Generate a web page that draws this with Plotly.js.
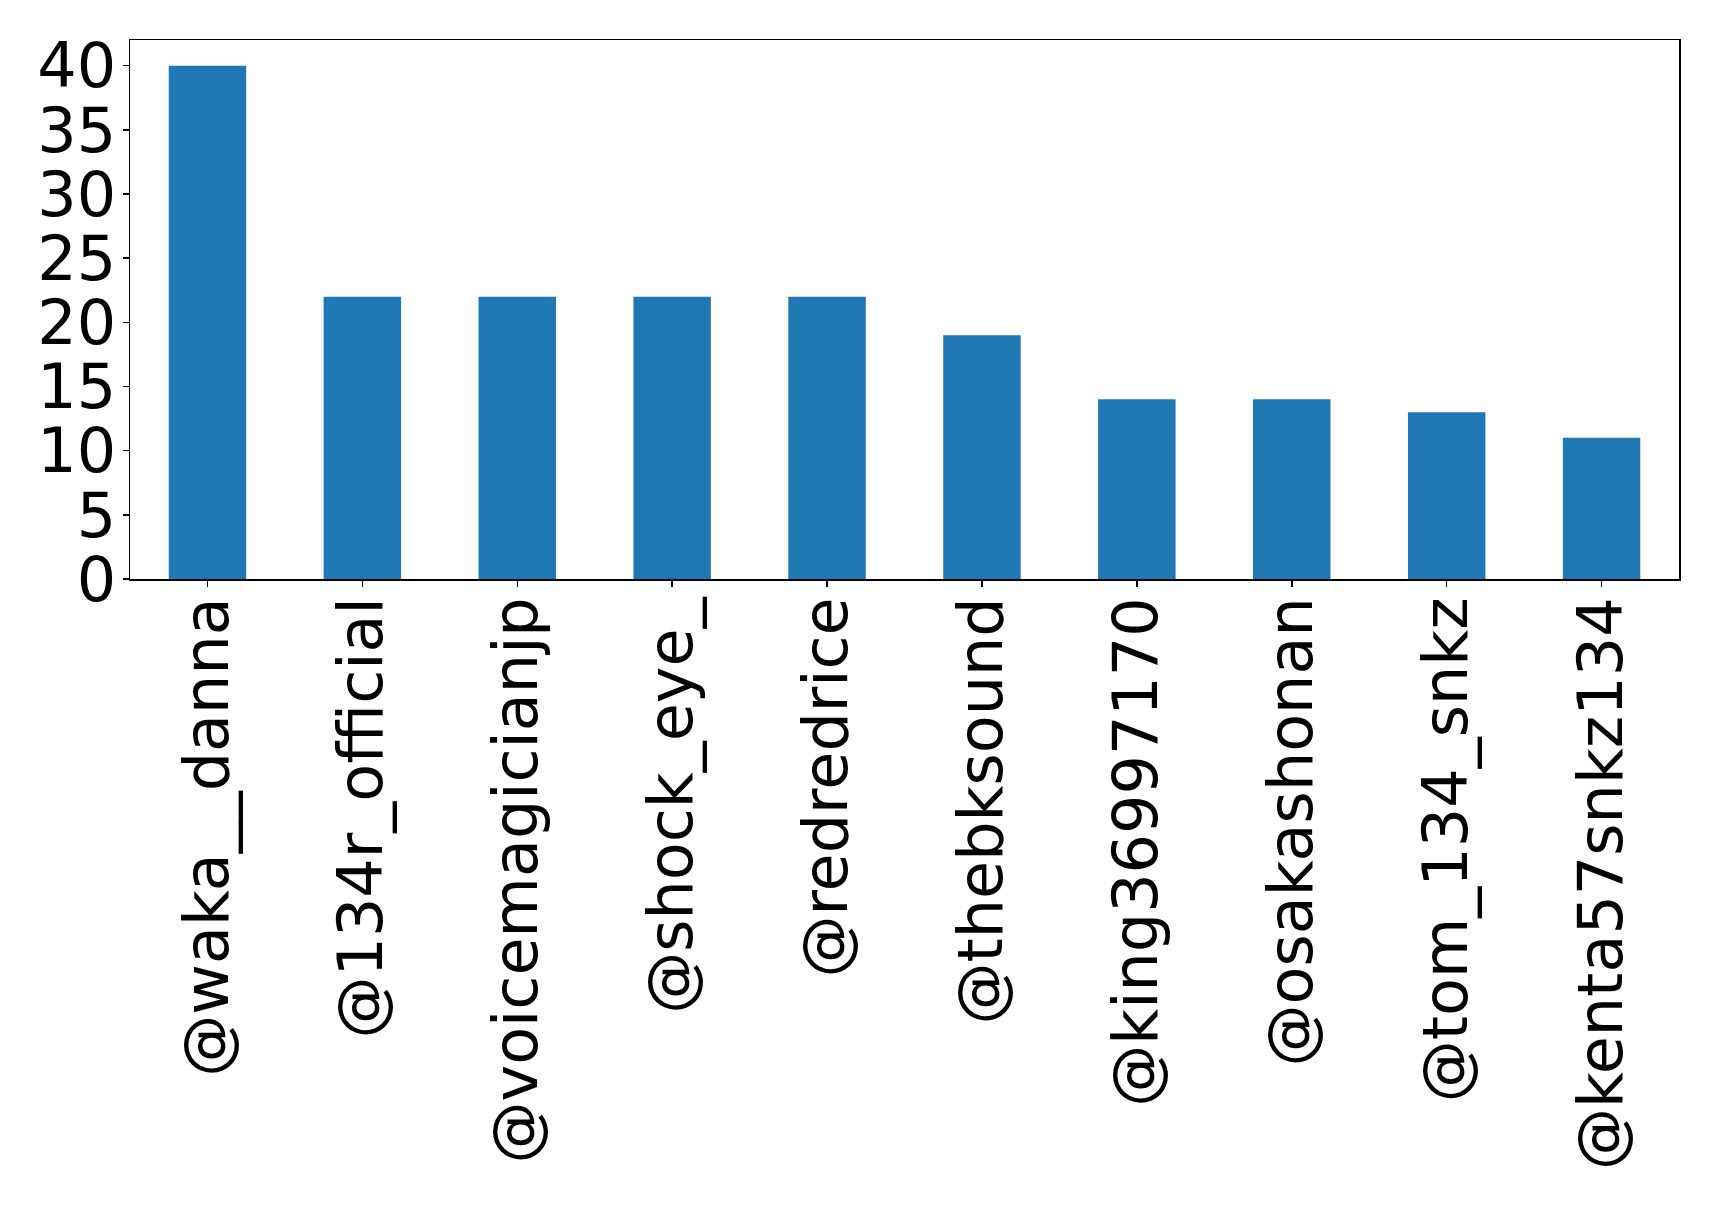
<!DOCTYPE html>
<html>
<head>
<meta charset="utf-8">
<script src="https://cdn.plot.ly/plotly-3.0.1.min.js"></script>
<style>
  html, body { margin: 0; padding: 0; background: #fff; }
  #chart { width: 1719px; height: 1205px; }
</style>
</head>
<body>
<div id="chart"></div>
<script>
// Accounts and their mention counts
const accounts = [
  "@waka__danna", "@134r_official", "@voicemagicianjp", "@shock_eye_",
  "@redredrice", "@thebksound", "@king36997170", "@osakashonan",
  "@tom_134_snkz", "@kenta57snkz134"
];
const counts = [40, 22, 22, 22, 22, 19, 14, 14, 13, 11];
const yTicks = [0, 5, 10, 15, 20, 25, 30, 35, 40];

const fontFamily = "DejaVu Sans, sans-serif";

const trace = {
  type: "bar",
  x: accounts,
  y: counts,
  width: 0.5,
  marker: { color: "#1f77b4", line: { width: 0 } },
  hoverinfo: "x+y"
};

const layout = {
  width: 1719,
  height: 1205,
  paper_bgcolor: "#ffffff",
  plot_bgcolor: "#ffffff",
  margin: { l: 129.5, r: 39.5, t: 40.3, b: 626, pad: 0 },
  showlegend: false,
  font: { family: fontFamily, color: "#000000", size: 62 },
  xaxis: {
    type: "category",
    range: [-0.5, 9.5],
    tickangle: -90,
    ticks: "outside",
    ticklen: 6,
    tickwidth: 1.5,
    tickcolor: "#000",
    ticklabelstandoff: -14,
    showline: true,
    linecolor: "#000",
    linewidth: 1.5,
    mirror: true,
    showgrid: false,
    zeroline: false,
    tickfont: { family: fontFamily, size: 62, color: "#000" }
  },
  yaxis: {
    range: [0, 42],
    tickmode: "array",
    tickvals: yTicks,
    ticktext: yTicks.map(String),
    ticks: "outside",
    ticklen: 6,
    tickwidth: 1.5,
    tickcolor: "#000",
    ticklabelstandoff: -6,
    showline: true,
    linecolor: "#000",
    linewidth: 1.5,
    mirror: true,
    showgrid: false,
    zeroline: false,
    tickfont: { family: fontFamily, size: 62, color: "#000" }
  }
};

Plotly.newPlot("chart", [trace], layout, { displayModeBar: false, staticPlot: true });
</script>
</body>
</html>
